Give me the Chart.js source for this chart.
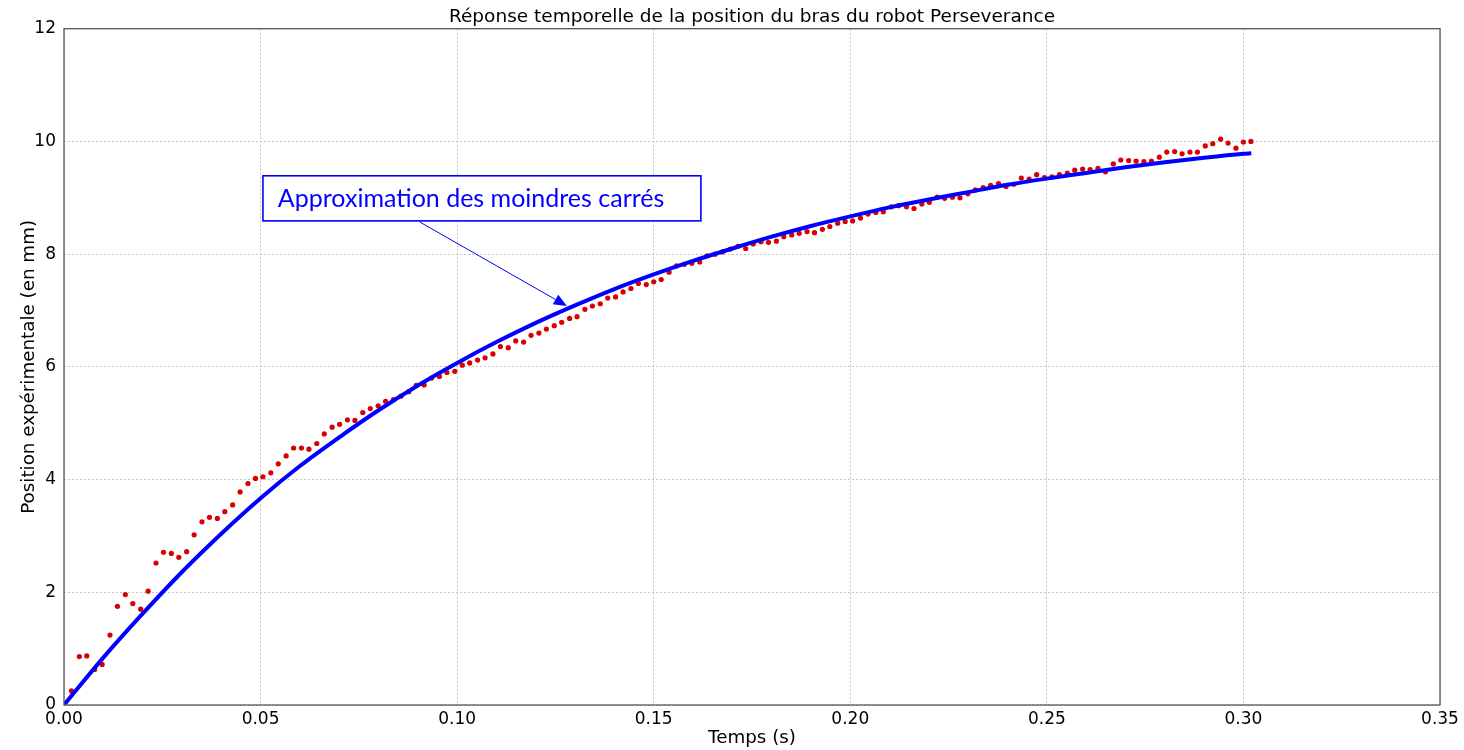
<!DOCTYPE html>
<html lang="fr">
<head>
<meta charset="utf-8">
<title>Réponse temporelle</title>
<script src="https://cdn.jsdelivr.net/npm/chart.js@4.4.1/dist/chart.umd.min.js"></script>
<style>
  html, body { margin: 0; padding: 0; background: #fff; }
  #wrap { width: 1464px; height: 750px; }
</style>
</head>
<body>
<div id="wrap"><canvas id="chart"></canvas></div>
<script>
// ── Measured points (time in s, position in mm) ───────────────
const times = [
  0.0019, 0.0039, 0.0058, 0.0078, 0.0097, 0.0117, 0.0136, 0.0156, 0.0175, 0.0195,
  0.0214, 0.0234, 0.0253, 0.0273, 0.0292, 0.0312, 0.0331, 0.0351, 0.0370, 0.0390,
  0.0409, 0.0429, 0.0448, 0.0468, 0.0487, 0.0506, 0.0526, 0.0545, 0.0565, 0.0584,
  0.0604, 0.0623, 0.0643, 0.0662, 0.0682, 0.0701, 0.0721, 0.0740, 0.0760, 0.0779,
  0.0799, 0.0818, 0.0838, 0.0857, 0.0877, 0.0896, 0.0916, 0.0935, 0.0955, 0.0974,
  0.0994, 0.1013, 0.1032, 0.1052, 0.1071, 0.1091, 0.1110, 0.1130, 0.1149, 0.1169,
  0.1188, 0.1208, 0.1227, 0.1247, 0.1266, 0.1286, 0.1305, 0.1325, 0.1344, 0.1364,
  0.1383, 0.1403, 0.1422, 0.1442, 0.1461, 0.1481, 0.1500, 0.1519, 0.1539, 0.1558,
  0.1578, 0.1597, 0.1617, 0.1636, 0.1656, 0.1675, 0.1695, 0.1714, 0.1734, 0.1753,
  0.1773, 0.1792, 0.1812, 0.1831, 0.1851, 0.1870, 0.1890, 0.1909, 0.1929, 0.1948,
  0.1968, 0.1987, 0.2006, 0.2026, 0.2045, 0.2065, 0.2084, 0.2104, 0.2123, 0.2143,
  0.2162, 0.2182, 0.2201, 0.2221, 0.2240, 0.2260, 0.2279, 0.2299, 0.2318, 0.2338,
  0.2357, 0.2377, 0.2396, 0.2416, 0.2435, 0.2455, 0.2474, 0.2494, 0.2513, 0.2532,
  0.2552, 0.2571, 0.2591, 0.2610, 0.2630, 0.2649, 0.2669, 0.2688, 0.2708, 0.2727,
  0.2747, 0.2766, 0.2786, 0.2805, 0.2825, 0.2844, 0.2864, 0.2883, 0.2903, 0.2922,
  0.2942, 0.2961, 0.2981, 0.3000, 0.3019
];
const positions = [
  0.25, 0.86, 0.87, 0.63, 0.72, 1.24, 1.75, 1.96, 1.80, 1.70,
  2.02, 2.52, 2.71, 2.69, 2.62, 2.72, 3.02, 3.25, 3.33, 3.31,
  3.43, 3.55, 3.78, 3.93, 4.02, 4.05, 4.12, 4.28, 4.42, 4.56,
  4.56, 4.54, 4.64, 4.81, 4.93, 4.98, 5.06, 5.05, 5.19, 5.26,
  5.31, 5.39, 5.42, 5.48, 5.56, 5.67, 5.68, 5.80, 5.83, 5.90,
  5.92, 6.03, 6.07, 6.12, 6.16, 6.23, 6.36, 6.34, 6.46, 6.44,
  6.56, 6.60, 6.67, 6.73, 6.79, 6.86, 6.89, 7.02, 7.08, 7.12,
  7.22, 7.24, 7.33, 7.39, 7.48, 7.46, 7.51, 7.55, 7.68, 7.79,
  7.82, 7.84, 7.86, 7.97, 8.00, 8.04, 8.09, 8.14, 8.10, 8.18,
  8.22, 8.21, 8.23, 8.31, 8.34, 8.37, 8.40, 8.38, 8.44, 8.49,
  8.55, 8.58, 8.59, 8.64, 8.71, 8.74, 8.75, 8.84, 8.86, 8.84,
  8.81, 8.89, 8.92, 9.01, 8.99, 9.01, 9.00, 9.07, 9.14, 9.18,
  9.22, 9.25, 9.20, 9.24, 9.35, 9.33, 9.41, 9.36, 9.37, 9.41,
  9.44, 9.49, 9.51, 9.50, 9.52, 9.46, 9.60, 9.67, 9.66, 9.65,
  9.64, 9.65, 9.72, 9.81, 9.82, 9.78, 9.81, 9.81, 9.92, 9.96,
  10.04, 9.97, 9.88, 9.99, 10.00
];

// ── Least squares curve ───────────────────────────────────────
const fitTimes = [
  0.00, 0.01, 0.02, 0.03, 0.04, 0.05, 0.06, 0.07, 0.08, 0.09,
  0.10, 0.11, 0.12, 0.13, 0.14, 0.15, 0.16, 0.17, 0.18, 0.19,
  0.20, 0.21, 0.22, 0.23, 0.24, 0.25, 0.26, 0.27, 0.28, 0.29,
  0.30, 0.302
];
const fitValues = [
  0.00, 0.84, 1.62, 2.36, 3.04, 3.67, 4.24, 4.75, 5.23, 5.67,
  6.07, 6.44, 6.78, 7.09, 7.38, 7.64, 7.88, 8.10, 8.31, 8.50,
  8.67, 8.83, 8.97, 9.10, 9.23, 9.34, 9.44, 9.54, 9.63, 9.71,
  9.78, 9.79
];

const noteText = 'Approximation des moindres carrés';

// ── Frame + annotation ────────────────────────────────────────
const framePlugin = {
  id: 'frame',
  afterDraw(chart) {
    const { ctx, chartArea: a, scales: { x, y } } = chart;
    ctx.save();
    ctx.strokeStyle = '#555';
    ctx.lineWidth = 1.3;
    ctx.strokeRect(a.left, a.top, a.right - a.left, a.bottom - a.top);

    // box (data coordinates)
    const bx0 = x.getPixelForValue(0.0506), bx1 = x.getPixelForValue(0.1620);
    const by0 = y.getPixelForValue(9.39), by1 = y.getPixelForValue(8.59);
    ctx.fillStyle = '#fff';
    ctx.fillRect(bx0, by0, bx1 - bx0, by1 - by0);
    ctx.strokeStyle = '#0000ff';
    ctx.lineWidth = 1.6;
    ctx.strokeRect(bx0, by0, bx1 - bx0, by1 - by0);
    ctx.fillStyle = '#0000ff';
    ctx.font = '25px Lato, "Open Sans", sans-serif';
    ctx.textBaseline = 'alphabetic';
    ctx.fillText(noteText, x.getPixelForValue(0.0544), y.getPixelForValue(8.83));

    // arrow
    const sx = x.getPixelForValue(0.0905), sy = y.getPixelForValue(8.57);
    const tx = x.getPixelForValue(0.1279), ty = y.getPixelForValue(7.08);
    const ang = Math.atan2(ty - sy, tx - sx);
    const hl = 13, hw = 5.5;
    const bxp = tx - hl * Math.cos(ang), byp = ty - hl * Math.sin(ang);
    ctx.lineWidth = 1;
    ctx.beginPath();
    ctx.moveTo(sx, sy);
    ctx.lineTo(bxp, byp);
    ctx.stroke();
    ctx.beginPath();
    ctx.moveTo(tx, ty);
    ctx.lineTo(bxp + hw * Math.sin(ang), byp - hw * Math.cos(ang));
    ctx.lineTo(bxp - hw * Math.sin(ang), byp + hw * Math.cos(ang));
    ctx.closePath();
    ctx.fill();
    ctx.restore();
  }
};

const tickFont = { family: '"DejaVu Sans", sans-serif', size: 17 };
const titleFont = { family: '"DejaVu Sans", sans-serif', size: 18.3 };

new Chart(document.getElementById('chart'), {
  type: 'scatter',
  data: {
    datasets: [
      {
        type: 'line',
        label: 'Approximation',
        data: fitTimes.map((t, i) => ({ x: t, y: fitValues[i] })),
        borderColor: '#0000ff',
        borderWidth: 4,
        pointRadius: 0,
        fill: false,
        cubicInterpolationMode: 'monotone'
      },
      {
        label: 'Mesures',
        data: times.map((t, i) => ({ x: t, y: positions[i] })),
        backgroundColor: '#d80000',
        borderWidth: 0,
        pointRadius: 2.6
      }
    ]
  },
  options: {
    responsive: true,
    maintainAspectRatio: false,
    animation: false,
    layout: { padding: { left: 0, right: 24, top: 0, bottom: 0 } },
    plugins: {
      legend: { display: false },
      tooltip: { enabled: false },
      title: {
        display: true,
        fullSize: false,
        text: 'Réponse temporelle de la position du bras du robot Perseverance',
        color: '#000',
        font: { family: '"DejaVu Sans", sans-serif', size: 18.5, weight: 'normal' },
        padding: { top: 6.5, bottom: 0 }
      }
    },
    scales: {
      x: {
        type: 'linear',
        min: 0, max: 0.35,
        ticks: { stepSize: 0.05, color: '#000', font: tickFont, padding: 4,
                 maxRotation: 0, callback: v => v.toFixed(2) },
        grid: { color: '#c4c4c4', lineWidth: 1, drawTicks: false },
        border: { display: false, dash: [2, 2] },
        title: { display: true, text: 'Temps (s)', color: '#000', font: titleFont,
                 padding: { top: 0, bottom: 1 } },
        afterFit: s => { s.height = 45; }
      },
      y: {
        min: 0, max: 12,
        ticks: { stepSize: 2, color: '#000', font: tickFont, padding: 8 },
        grid: { color: '#c4c4c4', lineWidth: 1, drawTicks: false },
        border: { display: false, dash: [2, 2] },
        title: { display: true, text: 'Position expérimentale (en mm)', color: '#000',
                 font: titleFont, padding: { top: 18, bottom: 0 } },
        afterFit: s => { s.width = 64; }
      }
    }
  },
  plugins: [framePlugin]
});
</script>
</body>
</html>
